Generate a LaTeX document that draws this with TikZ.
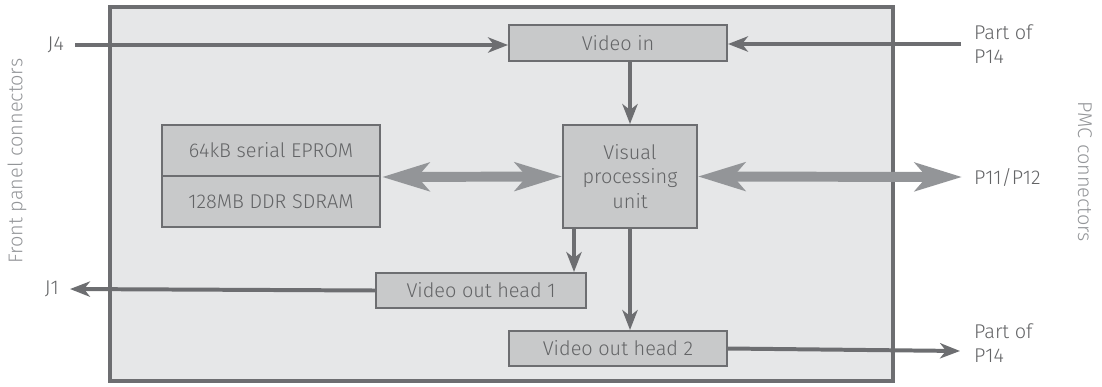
\documentclass[tikz,border=0pt]{standalone}
\usepackage{fontspec}
\setmainfont{Fira Sans}[UprightFont=* Light]
\usetikzlibrary{calc,arrows.meta}

\definecolor{boardfill}{HTML}{E6E7E8}
\definecolor{darkline}{HTML}{6D6E71}
\definecolor{boxfill}{HTML}{C8C9CA}
\definecolor{busline}{HTML}{939598}
\definecolor{textgray}{HTML}{636466}

\begin{document}
\begin{tikzpicture}[%
    x=0.03cm,y=-0.03cm,%
    every node/.style={font=\fontsize{17}{21}\selectfont, text=textgray},%
    blockbox/.style={draw=darkline, fill=boxfill, line width=1.7pt, inner sep=0pt},%
    sigline/.style={draw=darkline, line width=3.4pt, -{Stealth[length=17pt,width=13pt,inset=5pt]}},%
    busarrow/.style={draw=busline, line width=8.5pt, {Stealth[length=40pt,width=24pt,inset=10pt]}-{Stealth[length=40pt,width=24pt,inset=10pt]}},%
    sidelabel/.style={text=busline}%
  ]
  \useasboundingbox (0,0) rectangle (1102,386);

  %
  % Carte
  %
  \node[draw=darkline, fill=boardfill, line width=4.2pt, minimum width=783*0.03cm, minimum height=374*0.03cm]
    (board) at (501.5,194) {};

  %
  % Blocs
  %
  \node[blockbox, minimum width=218*0.03cm, minimum height=36*0.03cm] (videoin) at (618,43) {Video in};
  \node[blockbox, minimum width=134*0.03cm, minimum height=103*0.03cm, align=center] (vpu) at (630,176.5)
    {Visual\\processing\\unit};
  \node[blockbox, minimum width=218*0.03cm, minimum height=51*0.03cm] (eprom) at (271,150.5) {64kB serial EPROM};
  \node[blockbox, minimum width=218*0.03cm, minimum height=51*0.03cm] (sdram) at (271,201.5) {128MB DDR SDRAM};
  \node[blockbox, minimum width=210*0.03cm, minimum height=35*0.03cm] (voa) at (481,290.5) {Video out head 1};
  \node[blockbox, minimum width=218*0.03cm, minimum height=35*0.03cm] (vob) at (618,348.5) {Video out head 2};

  %
  % Connecteurs
  %
  \node[anchor=east] (jfour) at (68,45) {J4};
  \node[anchor=east] (jone) at (63,289) {J1};
  \node[anchor=west, align=left] (ptopin) at (970,44) {Part of\\P14};
  \node[anchor=west, align=left] (pbotout) at (970,343) {Part of\\P14};
  \node[anchor=west] (pmcbus) at (970,177) {P11/P12};
  \node[sidelabel, rotate=90] (front) at (17,161) {Front panel connectors};
  \node[sidelabel, rotate=-90] (pmc) at (1085,172) {PMC connectors};

  \coordinate (jfourend) at (75,45);
  \coordinate (joneend) at (70,289);
  \coordinate (ptopend) at (961,44);
  \coordinate (pbotend) at (960,351);
  \coordinate (pmcend) at (962,177);

  %
  % Liaisons
  %
  % Entrées vidéo
  \draw[sigline] (jfourend) -- (jfourend -| videoin.west);
  \draw[sigline] (ptopend) -- (ptopend -| videoin.east);
  \draw[sigline] (videoin.south -| vpu.north) -- (vpu.north);

  % Mémoire et bus PMC
  \draw[busarrow] ([xshift=1pt]eprom.south east) -- (vpu.west);
  \draw[busarrow] (vpu.east) -- (pmcend);

  % Sorties vidéo
  \draw[sigline] ($(vpu.south -| voa.north east)+(-13,0)$) -- ($(voa.north east)+(-13,0)$);
  \draw[sigline] (voa.west) -- (joneend);
  \draw[sigline] (vpu.south) -- (vpu.south |- vob.north);
  \draw[sigline] (vob.east) -- (pbotend);

\end{tikzpicture}
\end{document}
